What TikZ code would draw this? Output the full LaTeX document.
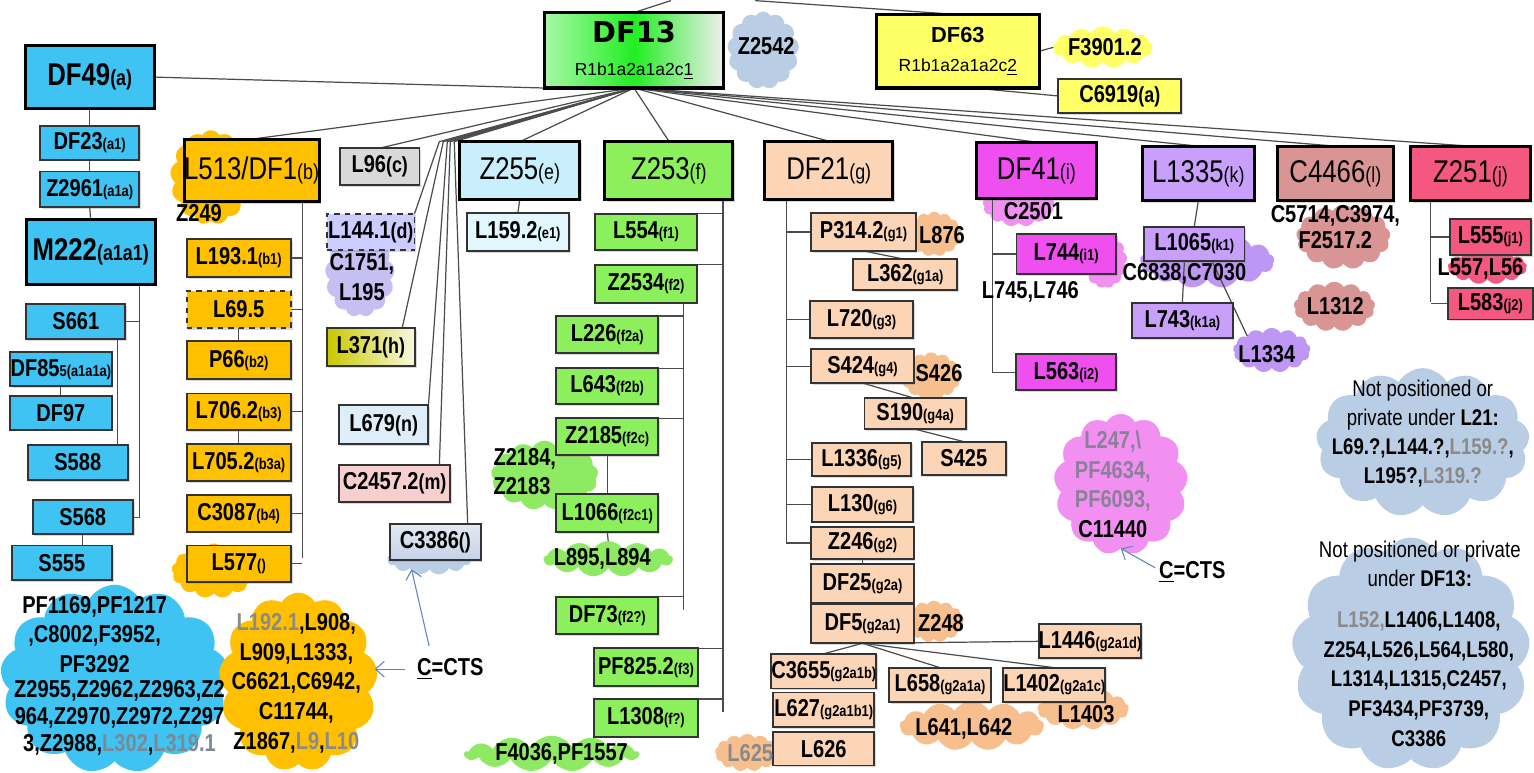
\documentclass[tikz,border=0pt]{standalone}
\usepackage{fontspec}
\setmainfont[FakeStretch=0.82]{Liberation Sans}
\newfontfamily\widefont{Liberation Sans}
\newfontfamily\heavyfont{DejaVu Sans}
\usetikzlibrary{shapes.symbols,shadows,arrows.meta}
\definecolor{bluea}{HTML}{3EC3F2}
\definecolor{orangea}{HTML}{FFC000}
\definecolor{graya}{HTML}{D9D9D9}
\definecolor{lava}{HTML}{CCCCFF}
\definecolor{lavcloud}{HTML}{C6BFF2}
\definecolor{olivea}{HTML}{C8C800}
\definecolor{cyanl}{HTML}{DDEEF9}
\definecolor{pinkl}{HTML}{F7CFCF}
\definecolor{steel}{HTML}{C5D3E6}
\definecolor{cyanbox}{HTML}{C9EFFC}
\definecolor{cyanxl}{HTML}{E3F8FE}
\definecolor{greena}{HTML}{8CF05C}
\definecolor{greenb}{HTML}{22EE22}
\definecolor{greencloud}{HTML}{8EEA62}
\definecolor{peach}{HTML}{FBD5B5}
\definecolor{peachcloud}{HTML}{F8BF8E}
\definecolor{maga}{HTML}{EF4FEF}
\definecolor{magcloud}{HTML}{F290F2}
\definecolor{purpa}{HTML}{C8A0FC}
\definecolor{purpcloud}{HTML}{BE96F4}
\definecolor{rosya}{HTML}{D99594}
\definecolor{pinka}{HTML}{F4587F}
\definecolor{yellowa}{HTML}{FFFF66}
\definecolor{cloudblue}{HTML}{B9CDE5}
\definecolor{ctsblue}{HTML}{5B86C0}
\definecolor{greyt}{HTML}{8A8A8A}
\definecolor{greyb}{HTML}{7B8896}
\definecolor{mgray}{HTML}{8C7F99}
\newcommand{\tg}[1]{{\fontsize{9}{10}\selectfont #1}}
\newcommand{\tgb}[1]{{\fontsize{12.5}{13}\selectfont #1}}
\pgfdeclarelayer{paper}
\pgfdeclarelayer{clouds}
\pgfdeclarelayer{links}
\pgfsetlayers{paper,clouds,links,main}

\begin{document}
\begin{tikzpicture}
[x=0.02cm,y=-0.02cm,%
  every node/.style={inner sep=0pt,outer sep=0pt},%
  sz/.style 2 args={minimum width=#1*0.02cm,minimum height=#2*0.02cm},%
  box/.style={rectangle,draw=black!80,line width=1.1pt,%
    font=\fontsize{14}{16}\selectfont\bfseries,%
    drop shadow={shadow xshift=1pt,shadow yshift=-1pt,opacity=0.3}},%
  bigbox/.style={box,draw=black,line width=1.8pt,font=\fontsize{18}{20}\selectfont},%
  bigbold/.style={bigbox,font=\fontsize{18}{20}\selectfont\bfseries},%
  blob/.style={cloud,cloud puffs=13,cloud puff arc=120,draw=none},%
  lbl/.style={font=\fontsize{14}{17}\selectfont\bfseries,align=center},%
  link/.style={draw=black!70,line width=0.7pt},%
  hint/.style={draw=ctsblue,line width=0.6pt,-{Straight Barb[length=5pt,width=9pt]}}]
\begin{pgfonlayer}{paper}
\path[use as bounding box,fill=white] (0,0) rectangle (1534,773);
\end{pgfonlayer}

%% clouds
\begin{pgfonlayer}{clouds}
\node[blob,fill=cloudblue,sz={72}{78}] (z2542c) at (768,50) {};
\node[blob,fill=yellowa,sz={100}{42}] (f3901c) at (1110,47) {};
\node[blob,fill=orangea,sz={82}{95}] (z249c) at (212,178) {};
\node[blob,fill=orangea,sz={85}{55}] (l577c) at (215,574) {};
\node[blob,fill=lavcloud,sz={70}{85}] (l1441c) at (362,276) {};
\node[blob,fill=cloudblue,sz={85}{32}] (c3386c) at (432,562) {};
\node[blob,fill=greencloud,sz={108}{70}] (z2184c) at (548,478) {};
\node[blob,fill=greencloud,sz={130}{36}] (l895c) at (612,562) {};
\node[blob,fill=greencloud,sz={175}{36}] (f4036c) at (555,758) {};
\node[blob,fill=peachcloud,sz={55}{45}] (l876c) at (940,235) {};
\node[blob,fill=peachcloud,sz={60}{48}] (s426c) at (937,378) {};
\node[blob,fill=peachcloud,sz={60}{42}] (z248c) at (940,625) {};
\node[blob,fill=peachcloud,sz={92}{42}] (l1403c) at (1090,713) {};
\node[blob,fill=peachcloud,sz={145}{50}] (l641c) at (978,730) {};
\node[blob,fill=peachcloud,sz={65}{38}] (l625c) at (752,757) {};
\node[blob,fill=magcloud,sz={72}{45}] (c2501c) at (1025,205) {};
\node[blob,fill=magcloud,sz={45}{55}] (l744c) at (1112,262) {};
\node[blob,fill=magcloud,sz={135}{142}] (c11440c) at (1128,487) {};
\node[blob,fill=purpcloud,sz={135}{55}] (l1065c) at (1215,262) {};
\node[blob,fill=purpcloud,sz={78}{45}] (l1334c) at (1280,352) {};
\node[blob,fill=rosya,sz={95}{65}] (c5714c) at (1352,238) {};
\node[blob,fill=rosya,sz={82}{50}] (l1312c) at (1343,308) {};
\node[blob,fill=pinka,sz={80}{35}] (l557c) at (1497,268) {};
\node[blob,fill=bluea,sz={230}{190}] (pfc) at (115,683) {};
\node[blob,fill=orangea,sz={160}{180}] (l192c) at (300,686) {};
\node[blob,fill=cloudblue,sz={215}{150}] (np1c) at (1432,445) {};
\node[blob,fill=cloudblue,sz={240}{235}] (np2c) at (1420,658) {};
\end{pgfonlayer}

%% DF13 and DF63
\node[bigbox,sz={180}{76},left color=greenb!40!white,right color=gray!12,middle color=greenb,align=center] (df13) at (638,50)
  {{\heavyfont\bfseries\fontsize{16.5}{18}\selectfont DF13}\\[-1pt]{\widefont\fontsize{10}{12}\selectfont R1b1a2a1a2c\underline{1}}};
\node[bigbox,sz={164}{74},fill=yellowa,align=center] (df63) at (964,51)
  {{\widefont\bfseries\fontsize{12.5}{14}\selectfont DF63}\\[-3pt]{\widefont\fontsize{10}{12}\selectfont R1b1a2a1a2c\underline{2}}};
\node[box,sz={124}{35},fill=yellowa] (c6919) at (1127,96) {C6919\tgb{(a)}};

%% DF49 branch
\node[bigbold,sz={130}{63},fill=bluea] (df49) at (90,77) {DF49\tgb{(a)}};
\node[box,sz={100}{34},fill=bluea] (df23) at (90,143) {DF23\tg{(a1)}};
\node[box,sz={100}{36},fill=bluea] (z2961) at (90,190) {Z2961\tg{(a1a)}};
\node[bigbold,sz={130}{65},fill=bluea] (m222) at (91,253) {M222\tgb{(a1a1)}};
\node[box,sz={100}{35},fill=bluea] (s661) at (76,323) {S661};
\node[box,sz={102}{34},fill=bluea] (df855) at (61,371) {DF85\tg{5(a1a1a)}};
\node[box,sz={102}{34},fill=bluea] (df97) at (61,415) {DF97};
\node[box,sz={101}{35},fill=bluea] (s588) at (78,465) {S588};
\node[box,sz={101}{34},fill=bluea] (s568) at (83,520) {S568};
\node[box,sz={101}{35},fill=bluea] (s555) at (62,566) {S555};

%% L513 branch
\node[bigbox,sz={135}{63},fill=orangea] (l513) at (253,171) {L513/DF1\tgb{(b)}};
\node[box,sz={105}{38},fill=orangea] (l1931) at (240,259) {L193.1\tg{(b1)}};
\node[box,sz={105}{37},fill=orangea,dashed] (l695) at (240,311) {L69.5};
\node[box,sz={105}{38},fill=orangea] (p66) at (240,362) {P66\tg{(b2)}};
\node[box,sz={105}{37},fill=orangea] (l7062) at (240,414) {L706.2\tg{(b3)}};
\node[box,sz={105}{37},fill=orangea] (l7052) at (240,465) {L705.2\tg{(b3a)}};
\node[box,sz={105}{37},fill=orangea] (c3087) at (240,516) {C3087\tg{(b4)}};
\node[box,sz={105}{37},fill=orangea] (l577) at (240,567) {L577\tg{()}};

%% small branches c d h n m
\node[box,sz={80}{37},fill=graya] (l96) at (382,167) {L96\tgb{(c)}};
\node[box,sz={88}{37},fill=lava,dashed] (l1441) at (373,233) {L144.1\tgb{(d)}};
\node[box,sz={89}{38},left color=olivea,right color=olivea!12] (l371) at (373,349) {L371\tgb{(h)}};
\node[box,sz={90}{39},fill=cyanl] (l679) at (386,427) {L679\tgb{(n)}};
\node[box,sz={112}{37},fill=pinkl] (c24572) at (397,486) {C2457.2\tgb{(m)}};
\node[box,sz={91}{37},top color=steel!50!white,bottom color=steel] (c3386) at (438,545) {C3386\tgb{()}};

%% Z255 and Z253
\node[bigbox,sz={121}{58},fill=cyanbox] (z255) at (523,171) {Z255\tgb{(e)}};
\node[box,sz={103}{38},fill=cyanxl] (l1592) at (521,233) {L159.2\tg{(e1)}};
\node[bigbox,sz={129}{59},fill=greena] (z253) at (673,171) {Z253\tgb{(f)}};
\node[box,sz={102}{37},fill=greena] (l554) at (650,233) {L554\tg{(f1)}};
\node[box,sz={102}{38},fill=greena] (z2534) at (650,285) {Z2534\tg{(f2)}};
\node[box,sz={103}{37},fill=greena] (l226) at (611,336) {L226\tg{(f2a)}};
\node[box,sz={103}{36},fill=greena] (l643) at (611,388) {L643\tg{(f2b)}};
\node[box,sz={103}{37},fill=greena] (z2185) at (611,439) {Z2185\tg{(f2c)}};
\node[box,sz={103}{38},fill=greena] (l1066) at (611,516) {L1066\tg{(f2c1)}};
\node[box,sz={103}{38},fill=greena] (df73) at (611,619) {DF73\tg{(f2?)}};
\node[box,sz={104}{38},fill=greena] (pf8252) at (650,671) {PF825.2\tg{(f3)}};
\node[box,sz={104}{38},fill=greena] (l1308) at (650,722) {L1308\tg{(f?)}};

%% DF21 branch
\node[bigbox,sz={129}{59},fill=peach] (df21) at (834,171) {DF21\tgb{(g)}};
\node[box,sz={105}{38},fill=peach] (p3142) at (869,233) {P314.2\tg{(g1)}};
\node[box,sz={105}{31},fill=peach] (l362) at (911,276) {L362\tg{(g1a)}};
\node[box,sz={104}{37},fill=peach] (l720) at (867,321) {L720\tg{(g3)}};
\node[box,sz={103}{34},fill=peach] (s424) at (868,368) {S424\tg{(g4)}};
\node[box,sz={102}{31},fill=peach] (s190) at (921,416) {S190\tg{(g4a)}};
\node[box,sz={85}{34},fill=peach] (s425) at (970,461) {S425};
\node[box,sz={100}{34},fill=peach] (l1336) at (867,462) {L1336\tg{(g5)}};
\node[box,sz={102}{35},fill=peach] (l130) at (868,507) {L130\tg{(g6)}};
\node[box,sz={103}{33},fill=peach] (z246) at (868,546) {Z246\tg{(g2)}};
\node[box,sz={103}{39},fill=peach] (df25) at (868,587) {DF25\tg{(g2a)}};
\node[box,sz={103}{40},fill=peach] (df5) at (868,627) {DF5\tg{(g2a1)}};
\node[box,sz={100}{34},fill=peach] (l1446) at (1097,645) {L1446\tg{(g2a1d)}};
\node[box,sz={102}{35},fill=peach] (c3655) at (829,675) {C3655\tg{(g2a1b)}};
\node[box,sz={102}{35},fill=peach] (l627) at (829,714) {L627\tg{(g2a1b1)}};
\node[box,sz={102}{34},fill=peach] (l626) at (829,753) {L626};
\node[box,sz={102}{35},fill=peach] (l658) at (946,689) {L658\tg{(g2a1a)}};
\node[box,sz={102}{35},fill=peach] (l1402) at (1061,689) {L1402\tg{(g2a1c)}};

%% DF41, L1335, C4466, Z251
\node[bigbox,sz={121}{57},fill=maga] (df41) at (1043,171) {DF41\tgb{(i)}};
\node[box,sz={100}{40},fill=maga] (l744) at (1073,255) {L744\tg{(i1)}};
\node[box,sz={101}{36},fill=maga] (l563) at (1073,374) {L563\tg{(i2)}};
\node[bigbox,sz={113}{55},fill=purpa] (l1335) at (1206,174) {L1335\tgb{(k)}};
\node[box,sz={101}{35},fill=purpa] (l1065) at (1202,245) {L1065\tg{(k1)}};
\node[box,sz={101}{36},fill=purpa] (l743) at (1190,322) {L743\tg{(k1a)}};
\node[bigbox,sz={117}{55},fill=rosya] (c4466) at (1344,174) {C4466\tgb{(l)}};
\node[bigbox,sz={120}{55},fill=pinka] (z251) at (1480,174) {Z251\tgb{(j)}};
\node[box,sz={82}{37},fill=pinka] (l555) at (1500,238) {L555\tg{(j1)}};
\node[box,sz={86}{32},fill=pinka] (l583) at (1500,305) {L583\tg{(j2)}};

%% cloud texts
\node[lbl] (z2542) at (771,46) {Z2542};
\node[lbl] (f3901) at (1112,47) {F3901.2};
\node[lbl] (z249) at (200,214) {Z249};
\node[lbl] (c1751) at (364,278) {C1751,\\L195};
\node[lbl,align=left] (z2184) at (528,474) {Z2184,\\Z2183};
\node[lbl] (l895) at (606,562) {L895,L894};
\node[lbl] (f4036) at (565,758) {F4036,PF1557};
\node[lbl] (l876) at (948,236) {L876};
\node[lbl] (s426) at (945,375) {S426};
\node[lbl] (z248) at (947,627) {Z248};
\node[lbl] (l1403) at (1093,718) {L1403};
\node[lbl] (l641) at (970,733) {L641,L642};
\node[lbl,text=greyt] (l625) at (755,757) {L625};
\node[lbl] (c2501) at (1040,212) {C2501};
\node[lbl] (l745) at (1037,293) {L745,L746};
\node[lbl] (c11440) at (1120,487) {{\color{mgray}L247,\textbackslash}\\{\color{mgray}PF4634,}\\{\color{mgray}PF6093,}\\C11440};
\node[lbl] (c6838) at (1192,275) {C6838,C7030};
\node[lbl] (l1334) at (1275,356) {L1334};
\node[lbl,font=\fontsize{14}{14.5}\selectfont\bfseries] (c5714) at (1344,228) {C5714,C3974,\\F2517.2};
\node[lbl] (l1312) at (1344,308) {L1312};
\node[lbl] (l557) at (1490,270) {L557,L56};
\node[lbl,font=\fontsize{14}{17}\selectfont\bfseries] (pf1169) at (95,638) {PF1169,PF1217\\,C8002,F3952,\\PF3292};
\node[lbl,font=\fontsize{14}{15.5}\selectfont\bfseries] (z2955) at (120,722)
  {Z2955,Z2962,Z2963,Z2\\964,Z2970,Z2972,Z297\\3,Z2988,{\color{greyb}L302},{\color{greyb}L319.1}};
\node[lbl] (l192) at (298,687) {{\color{greyt}L192.1},L908,\\L909,L1333,\\C6621,C6942,\\C11744,\\Z1867,{\color{greyt}L9},{\color{greyt}L10}};
\node[align=center,font=\fontsize{13}{16.5}\selectfont] (np1) at (1432,436)
  {Not positioned or\\private under \textbf{L21:}\\\textbf{L69.?,L144.?,{\color{greyt}L159.?},}\\\textbf{L195?,{\color{greyt}L319.?}}};
\node[align=center,font=\fontsize{13}{16.5}\selectfont] (np2) at (1429,567) {Not positioned or private\\under \textbf{DF13:}};
\node[align=center,font=\fontsize{13}{17}\selectfont\bfseries] (np3) at (1428,683)
  {{\color{greyt}L152,}L1406,L1408,\\Z254,L526,L564,L580,\\L1314,L1315,C2457,\\PF3434,PF3739,\\C3386};
\node[lbl] (ctsA) at (453,673) {\underline{C}=CTS};
\node[lbl] (ctsB) at (1200,575) {\underline{C}=CTS};

%% connectors
\coordinate (upa) at (675,0);
\coordinate (upb) at (760,0);
\coordinate (kd) at (442,142);
\coordinate (kh) at (446,142);
\coordinate (kn) at (450,142);
\coordinate (km) at (453,142);
\coordinate (kc) at (457,142);
\coordinate (ctsAtip) at (377,673);
\begin{pgfonlayer}{links}
\draw[link] (upa) -- (df13.north);
\draw[link] (upb) -- (df63.north);
\draw[link] (df63.east) -- (f3901c.west);
\draw[link] (df63.south) ++(16,0) -- (c6919.west);
\draw[link] (df49.east) -- (df13.south west);
\foreach \t in {l513.north,l96.north,z255.north,z253.north,df21.north,df41.north,l1335.north,c4466.north,z251.north}
  \draw[link] (df13.south) -- (\t);
\draw[link] (df13.south) -- (kd) -- (l1441.north east);
\draw[link] (df13.south) -- (kh) -- ([shift={(-13,0)}]l371.north east);
\draw[link] (df13.south) -- (kn) -- (l679.north east);
\draw[link] (df13.south) -- (km) -- ([shift={(-11,0)}]c24572.north east);
\draw[link] (df13.south) -- (kc) -- ([shift={(-13,0)}]c3386.north east);
%% DF49
\draw[link] (df49.south) -- (df23.north);
\draw[link] (df23.south) -- (z2961.north);
\draw[link] (z2961.south) -- (m222.north);
\draw[link] (m222.south east) ++(-16,0) coordinate (mt) |- (s568.east);
\draw[link] (s661.east) -- (s661.east -| mt);
\draw[link] (s661.south east) ++(-8,0) coordinate (st) -- (st |- s588.north);
\draw[link] (df855.south) -- (df97.north);
\draw[link] (s568.south) -- (s568.south |- s555.north);
%% L513
\draw[link] (l513.south east) ++(-17,0) coordinate (bt) -- ++(0,359);
\foreach \n in {l1931,l695,l7062,c3087,l577}
  \draw[link] (\n.east) -- (\n.east -| bt);
\draw[link] (l695.south) -- (p66.north);
\draw[link] (l7062.south) -- (l7052.north);
%% Z255, Z253
\draw[link] (z255.south) -- (l1592.north);
\draw[link] (z253.south east) ++(-10,0) coordinate (ft) -- ++(0,516);
\foreach \n in {l554,z2534,pf8252,l1308}
  \draw[link] (\n.north east) -- (\n.north east -| ft);
\draw[link] (z2534.south east) ++(-13,0) coordinate (ft2) -- ++(0,309);
\foreach \n in {l226,l643,z2185,df73}
  \draw[link] (\n.north east) -- (\n.north east -| ft2);
\draw[link] (z2185.south) -- (l1066.north);
\draw[link] (l1066.south) -- (l895c.north);
%% DF21
\draw[link] (df21.south west) ++(22,0) coordinate (gt) |- (z246.west);
\foreach \n in {p3142,l720,s424,l1336,l130}
  \draw[link] (\n.west) -- (\n.west -| gt);
\draw[link] (p3142.south) -- (l362.north);
\draw[link] (s424.south) -- (s190.north);
\draw[link] (s190.south) -- (s425.north);
\draw[link] (z246.south) -- (df25.north);
\foreach \t in {c3655.north,l658.north,l1402.north,l1446.west}
  \draw[link] (df5.south) -- (\t);
%% DF41, L1335, Z251
\draw[link] (df41.south west) ++(16,0) coordinate (it) |- (l563.west);
\draw[link] (l744.west) -- (l744.west -| it);
\draw[link] (l1335.south) -- (l1065.north);
\draw[link] (l1065.south) ++(-10,0) -- (l743.north);
\draw[link] (l1065.south) ++(18,0) -- (l1334c.north west);
\draw[link] (z251.south west) ++(20,0) coordinate (jt) -- ++(0,102);
\draw[link] (l555.west) -- (l555.west -| jt);
\draw[link] (l583.west) -- (l583.west -| jt);
%% C=CTS hints
\draw[hint] ([shift={(-12,0)}]ctsA.west) -- (ctsAtip);
\draw[hint] ([shift={(12,-13)}]ctsA.north west) -- ([shift={(-18,0)}]c3386c.south);
\draw[hint] ([shift={(-4,-4)}]ctsB.west) -- (c11440c.south);
\end{pgfonlayer}
\end{tikzpicture}
\end{document}
